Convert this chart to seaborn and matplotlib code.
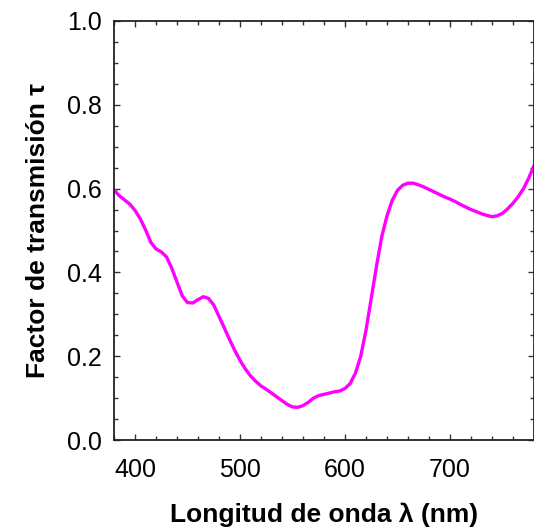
import numpy as np
import pandas as pd
import matplotlib
matplotlib.use("Agg")
import matplotlib.pyplot as plt
import seaborn as sns
from matplotlib.ticker import MultipleLocator

# Spectral transmission factor, sampled every 5 nm
wavelength_nm = list(range(380, 781, 5))
transmission = [
    0.597, 0.583, 0.573, 0.563, 0.548, 0.528, 0.502, 0.472, 0.456, 0.449,  # 380-425
    0.437, 0.410, 0.377, 0.344, 0.328, 0.327, 0.335, 0.342, 0.338, 0.322,  # 430-475
    0.295, 0.268, 0.240, 0.214, 0.190, 0.170, 0.153, 0.140, 0.129, 0.121,  # 480-525
    0.112, 0.103, 0.094, 0.085, 0.079, 0.078, 0.082, 0.090, 0.100, 0.106,  # 530-575
    0.109, 0.112, 0.115, 0.117, 0.123, 0.135, 0.160, 0.200, 0.262, 0.338,  # 580-625
    0.415, 0.485, 0.535, 0.572, 0.596, 0.608, 0.613, 0.613, 0.609, 0.604,  # 630-675
    0.598, 0.592, 0.586, 0.580, 0.575, 0.569, 0.562, 0.556, 0.550, 0.545,  # 680-725
    0.540, 0.536, 0.533, 0.535, 0.541, 0.552, 0.565, 0.581, 0.600, 0.625,  # 730-775
    0.655,                                                                  # 780
]

x_ticks = [400, 500, 600, 700]
y_ticks = [0.0, 0.2, 0.4, 0.6, 0.8, 1.0]

df = pd.DataFrame({"wavelength": wavelength_nm, "tau": transmission})

sns.set_theme(style="ticks")
plt.rcParams["font.family"] = ["Liberation Sans", "DejaVu Sans"]

W, H = 534, 530
fig = plt.figure(figsize=(W / 100, H / 100), dpi=100)
ax = fig.add_axes([114 / W, 1 - 440 / H, (534 - 114) / W, (440 - 21) / H])

sns.lineplot(data=df, x="wavelength", y="tau", color="#ff00ff",
             linewidth=2.4, ax=ax)

ax.set_xlim(380, 780)
ax.set_ylim(0, 1.0)
ax.set_xticks(x_ticks)
ax.set_yticks(y_ticks)
ax.set_yticklabels([f"{v:.1f}" for v in y_ticks])
ax.xaxis.set_minor_locator(MultipleLocator(20))
ax.yaxis.set_minor_locator(MultipleLocator(0.05))

ax.tick_params(which="both", direction="in", top=True, right=True,
               color="#333333", width=1.0)
ax.tick_params(which="major", length=4.0, labelsize=18, labelcolor="black")
ax.tick_params(which="minor", length=3.0)
ax.tick_params(axis="y", which="major", pad=9)
ax.tick_params(axis="x", which="major", pad=13)

for sp in ax.spines.values():
    sp.set_color("#222222")
    sp.set_linewidth(1.3)

ax.set_xlabel("Longitud de onda λ (nm)", fontsize=19, fontweight="bold",
              color="black", labelpad=15)
ax.set_ylabel("Factor de transmisión τ", fontsize=19, fontweight="bold",
              color="black", labelpad=12)

fig.savefig("out.png", dpi=100)
